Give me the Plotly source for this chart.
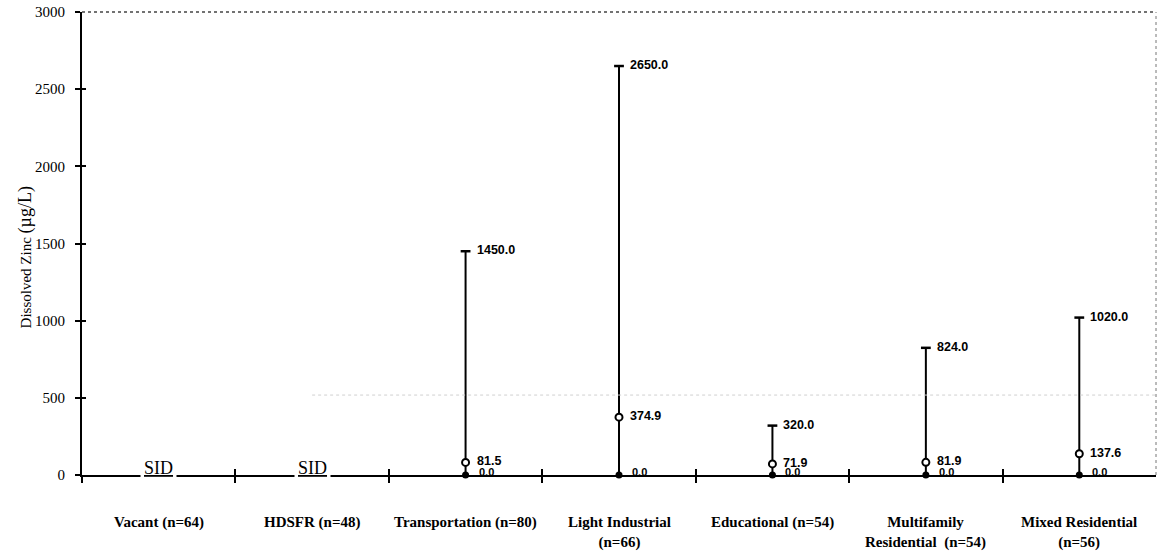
import plotly.graph_objects as go

# ---- data ----
categories = ["Vacant (n=64)", "HDSFR (n=48)", "Transportation (n=80)",
              "Light Industrial<br>(n=66)", "Educational (n=54)",
              "Multifamily<br>Residential  (n=54)", "Mixed Residential<br>(n=56)"]
max_vals = [None, None, 1450.0, 2650.0, 320.0, 824.0, 1020.0]
mean_vals = [None, None, 81.5, 374.9, 71.9, 81.9, 137.6]
min_vals = [None, None, 0.0, 0.0, 0.0, 0.0, 0.0]
sid_flags = [True, True, False, False, False, False, False]
y_ticks = [0, 500, 1000, 1500, 2000, 2500, 3000]

xs = list(range(len(categories)))
data_idx = [i for i in xs if max_vals[i] is not None]

fig = go.Figure()

# vertical range lines
lx, ly = [], []
for i in data_idx:
    lx += [i, i, None]
    ly += [min_vals[i], max_vals[i], None]
fig.add_trace(go.Scatter(x=lx, y=ly, mode="lines", line=dict(color="black", width=2),
                         hoverinfo="skip", showlegend=False, cliponaxis=False))
# max caps
fig.add_trace(go.Scatter(x=data_idx, y=[max_vals[i] for i in data_idx], mode="markers",
                         marker=dict(symbol="line-ew", size=7, line=dict(color="black", width=2.5)),
                         showlegend=False, cliponaxis=False))
# min markers
fig.add_trace(go.Scatter(x=data_idx, y=[min_vals[i] for i in data_idx], mode="markers",
                         marker=dict(symbol="circle", size=7, color="black"),
                         showlegend=False, cliponaxis=False))
# mean markers
fig.add_trace(go.Scatter(x=data_idx, y=[mean_vals[i] for i in data_idx], mode="markers",
                         marker=dict(symbol="circle", size=7, color="white",
                                     line=dict(color="black", width=2)),
                         showlegend=False, cliponaxis=False))
# dummy trace for overlay axes
fig.add_trace(go.Scatter(x=[None], y=[None], xaxis="x2", yaxis="y2", showlegend=False))

lab_font = dict(family="Liberation Sans, Arial", size=12.5, color="black")
for i in data_idx:
    fig.add_annotation(x=i, y=max_vals[i], text="<b>%.1f</b>" % max_vals[i], showarrow=False,
                       xanchor="left", yanchor="middle", xshift=9, yshift=1, font=lab_font)
    fig.add_annotation(x=i, y=mean_vals[i], text="<b>%.1f</b>" % mean_vals[i], showarrow=False,
                       xanchor="left", yanchor="middle", xshift=9, yshift=1, font=lab_font)
    fig.add_annotation(x=i, y=min_vals[i], text="<b>%.1f</b>" % min_vals[i], showarrow=False,
                       xanchor="left", yanchor="middle", xshift=11, yshift=3,
                       font=dict(family="Liberation Sans, Arial", size=11, color="black"))

for i in xs:
    if sid_flags[i]:
        fig.add_annotation(x=i, y=0, text="<u>SID</u>", showarrow=False, xanchor="center",
                           yanchor="middle", yshift=7, bgcolor="white", borderpad=3,
                           font=dict(family="Liberation Serif, Times New Roman", size=18, color="black"))

# category labels
for i, c in enumerate(categories):
    fig.add_annotation(x=i, y=0, yref="paper", text="<b>%s</b>" % c.replace("<br>", "</b><br><b>"),
                       showarrow=False, xanchor="center", yanchor="top", yshift=-37,
                       font=dict(family="Liberation Serif, Times New Roman", size=15, color="black"))

# y-axis title
fig.add_annotation(x=0, xref="paper", xshift=-57, y=0.47, yref="paper", textangle=-90,
                   showarrow=False, xanchor="center", yanchor="middle",
                   text="Dissolved Zinc <span style='font-size:18px'>(\u00b5g/L)</span>",
                   font=dict(family="Liberation Serif, Times New Roman", size=15, color="black"))

# faint scan line near 500
fig.add_shape(type="line", xref="x", yref="y", x0=1, x1=6.5, y0=518, y1=518,
              line=dict(color="#d0d0d0", width=1, dash="dot"))
# top & right dotted frame
fig.add_shape(type="line", xref="paper", yref="paper", x0=0, x1=1, y0=1, y1=1,
              line=dict(color="#444444", width=1.5, dash="dot"))
fig.add_shape(type="line", xref="paper", yref="paper", x0=1, x1=1, y0=0, y1=1,
              line=dict(color="#777777", width=1, dash="dot"))

axis_common = dict(showgrid=False, zeroline=False, automargin=False)
fig.update_layout(
    width=1158, height=552,
    margin=dict(l=82, r=2, t=12, b=77),
    plot_bgcolor="white", paper_bgcolor="white",
    showlegend=False,
    xaxis=dict(range=[-0.5, 6.5], tickvals=[-0.5, 0.5, 1.5, 2.5, 3.5, 4.5, 5.5], ticks="outside",
               ticklen=6, tickwidth=2, tickcolor="black", showticklabels=False,
               showline=True, linecolor="black", linewidth=2, **axis_common),
    yaxis=dict(range=[0, 3000], tickvals=y_ticks, ticks="outside", ticklen=5, tickwidth=2,
               tickcolor="black", showline=True, linecolor="black", linewidth=2,
               ticklabelstandoff=7, ticklabeloverflow="allow",
               tickfont=dict(family="Liberation Serif, Times New Roman", size=15, color="black"),
               **axis_common),
    xaxis2=dict(overlaying="x", range=[-0.5, 6.5], tickvals=[0.5, 1.5, 2.5, 3.5, 4.5, 5.5],
                ticks="inside", ticklen=6, tickwidth=2, tickcolor="black", showticklabels=False,
                side="bottom", showline=False, **axis_common),
    yaxis2=dict(overlaying="y", range=[0, 3000], tickvals=y_ticks, ticks="inside", ticklen=4,
                tickwidth=2, tickcolor="black", showticklabels=False, side="left",
                showline=False, **axis_common),
)

fig.write_html("out.html", config={"displayModeBar": False},
               post_script="document.body.style.margin='0';document.body.style.padding='0';"
                           "document.documentElement.style.overflow='hidden';")
